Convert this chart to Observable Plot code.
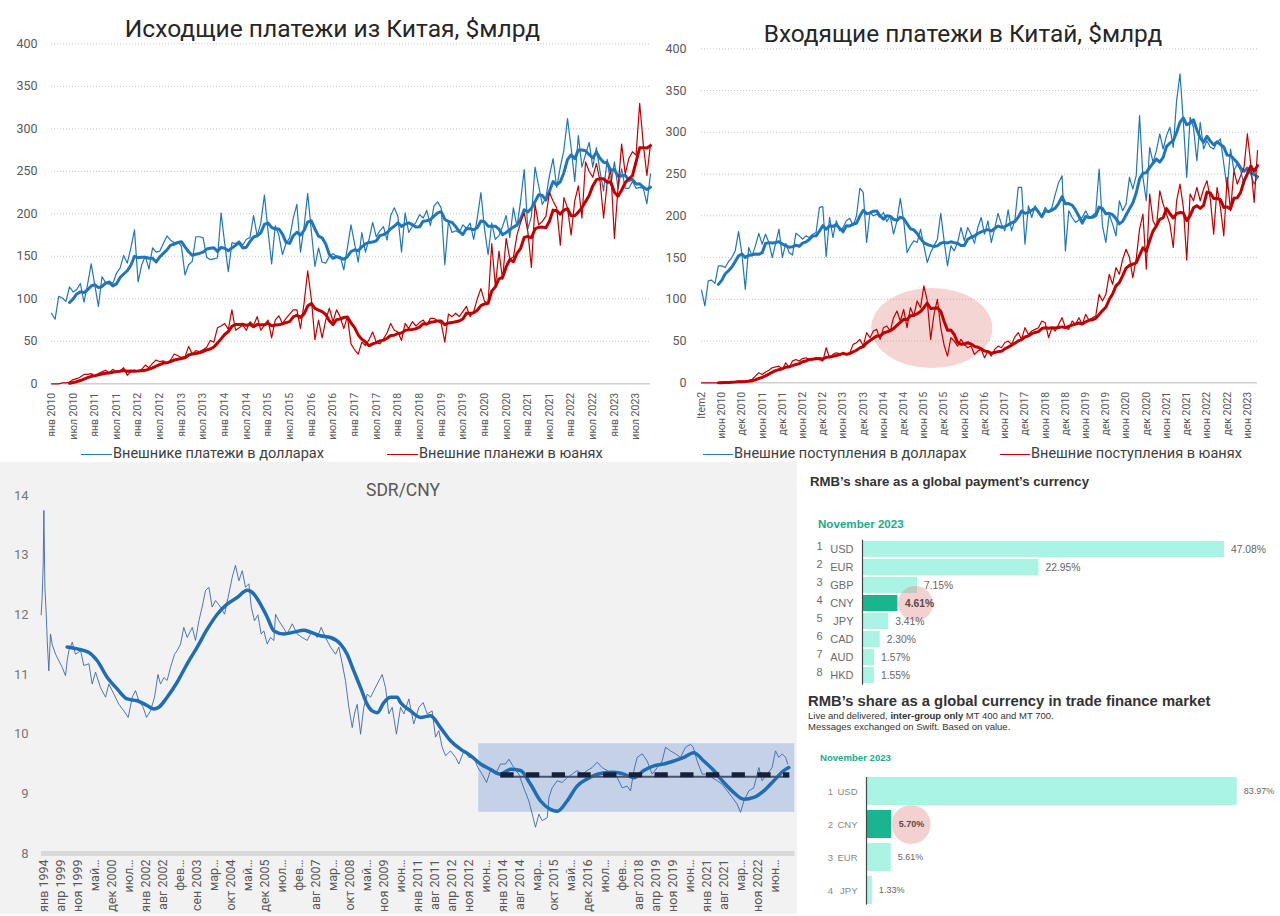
<!DOCTYPE html>
<html lang="ru"><head><meta charset="utf-8">
<script src="https://cdn.jsdelivr.net/npm/d3@7"></script>
<script src="https://cdn.jsdelivr.net/npm/@observablehq/plot@0.6"></script>
<style>
html,body{margin:0;padding:0;background:#fff}
body{width:1280px;height:916px;position:relative;overflow:hidden;font-family:Roboto,"Noto Sans",sans-serif}
.abs{position:absolute}
.title{font-family:Roboto,sans-serif;color:#262626;white-space:nowrap;text-align:center}
.legend{display:flex;align-items:center;font-size:14.5px;color:#404040;white-space:nowrap;height:18px;line-height:18px}
.sw{display:inline-block;width:31px;height:0;border-top:1.6px solid;margin-right:1px}
.rt{font-family:"Liberation Sans",Arial,sans-serif;white-space:nowrap;color:#333}
</style></head><body>
<div class="abs" style="left:0;top:462px;width:797px;height:452px;background:#f2f2f2"></div>

<div class="abs title" style="left:0;top:14.5px;width:665px;font-size:24.6px;line-height:28px">Исходщие платежи из Китая, $млрд</div>
<div class="abs title" style="left:660px;top:19.5px;width:606px;font-size:24.4px;line-height:28px">Входящие платежи в Китай, $млрд</div>
<div id="chartA" class="abs" style="left:0;top:0"></div>
<div id="chartB" class="abs" style="left:660px;top:0"></div>
<div class="abs legend" style="left:81px;top:445px"><span class="sw" style="border-color:#2176b8"></span>Внешнике платежи в долларах</div>
<div class="abs legend" style="left:387px;top:445px"><span class="sw" style="border-color:#c00000"></span>Внешние планежи в юанях</div>
<div class="abs legend" style="left:703px;top:445px"><span class="sw" style="border-color:#2176b8;width:30px"></span>Внешние поступления в долларах</div>
<div class="abs legend" style="left:1000px;top:445px"><span class="sw" style="border-color:#c00000;width:30px"></span>Внешние поступления в юанях</div>

<div id="chartC" class="abs" style="left:0;top:462px"></div>
<div class="abs" style="left:300px;top:480px;width:206px;text-align:center;font-size:17.5px;line-height:20px;color:#595959;font-family:Roboto,sans-serif">SDR/CNY</div>

<div class="abs rt" style="left:810px;top:474px;font-size:13.2px;line-height:16px;font-weight:bold">RMB’s share as a global payment’s currency</div>
<div class="abs rt" style="left:818px;top:516.7px;font-size:11.6px;line-height:14px;font-weight:bold;color:#1aab8d">November 2023</div>
<div id="chartD1" class="abs" style="left:800px;top:535px"></div>
<div class="abs rt" style="left:808px;top:692px;font-size:14.8px;line-height:18px;font-weight:bold">RMB’s share as a global currency in trade finance market</div>
<div class="abs rt" style="left:808px;top:709.5px;font-size:9.5px;line-height:11px;color:#333">Live and delivered, <b>inter-group only</b> MT 400 and MT 700.<br>Messages exchanged on Swift. Based on value.</div>
<div class="abs rt" style="left:820px;top:752.4px;font-size:9.6px;line-height:12px;font-weight:bold;color:#1aab8d">November 2023</div>
<div id="chartD2" class="abs" style="left:800px;top:770px"></div>

<script>
// ---------- Data: outgoing payments (янв 2010 – ноя 2023), $bn ----------
const outLabels = ["янв 2010","июл 2010","янв 2011","июл 2011","янв 2012","июл 2012","янв 2013","июл 2013","янв 2014","июл 2014","янв 2015","июл 2015","янв 2016","июл 2016","янв 2017","июл 2017","янв 2018","июл 2018","янв 2019","июл 2019","янв 2020","июл 2020","янв 2021","июл 2021","янв 2022","июл 2022","янв 2023","июл 2023"];
const outUSD = [83,76,103,101,97,114,108,111,118,96,117,141,116,91,126,119,121,118,130,136,151,142,160,181,120,140,150,135,160,155,156,165,174,169,166,167,162,128,140,144,173,173,172,149,146,147,148,201,165,132,166,165,168,163,170,172,198,174,189,222,180,141,186,175,152,165,172,195,211,155,185,224,180,138,160,143,142,150,153,150,150,134,160,187,165,143,178,155,170,190,173,180,185,169,198,207,197,155,201,178,185,190,199,195,204,186,209,214,207,140,191,178,180,178,187,183,189,170,195,225,182,152,189,170,174,185,198,172,207,185,215,252,182,197,255,233,211,219,245,265,231,255,275,312,278,238,292,255,270,284,255,278,250,227,264,233,261,230,253,230,230,238,230,231,230,212,247];
const outCNY = [0,0,0,1,1,2,5,6,8,11,11,12,9,12,14,16,13,17,14,15,19,10,15,16,15,17,22,19,24,28,26,27,24,28,35,33,31,32,44,35,39,38,40,43,51,49,66,68,71,64,87,63,66,69,63,73,69,79,63,69,75,54,75,80,71,77,82,87,87,65,95,133,100,52,75,54,75,89,73,87,79,65,79,47,40,35,49,45,52,61,49,47,53,60,71,63,61,51,71,65,73,68,72,75,69,77,77,74,71,49,82,79,83,79,85,91,79,85,100,112,97,95,165,115,156,123,171,147,149,175,190,201,179,137,211,187,191,197,225,215,207,163,219,207,175,215,233,195,261,250,243,259,239,195,237,251,171,231,282,247,265,273,269,330,282,245,282];

// ---------- Data: incoming payments (Item2 = дек 2009 … окт 2023), $bn ----------
const inLabels = ["Item2","июн 2010","дек 2010","июн 2011","дек 2011","июн 2012","дек 2012","июн 2013","дек 2013","июн 2014","дек 2014","июн 2015","дек 2015","июн 2016","дек 2016","июн 2017","дек 2017","июн 2018","дек 2018","июн 2019","дек 2019","июн 2020","дек 2020","июн 2021","дек 2021","июн 2022","дек 2022","июн 2023"];
const inUSD = [111,92,122,123,119,140,140,138,145,150,158,181,154,112,162,152,164,179,166,178,168,150,167,184,150,167,156,153,179,176,172,176,174,178,180,210,211,151,198,174,194,182,186,194,197,188,200,233,228,168,204,200,202,198,204,193,200,178,194,221,194,156,164,170,168,184,164,144,156,164,172,203,170,140,164,158,168,186,170,186,178,167,186,198,178,194,168,185,203,190,182,207,182,195,234,234,166,212,198,212,205,200,210,204,210,226,240,248,158,206,198,192,195,198,206,198,200,204,256,188,168,202,190,176,218,206,214,246,232,248,320,246,218,282,264,278,298,280,296,306,282,338,370,312,246,318,306,266,312,280,290,282,280,288,292,262,232,280,254,262,254,238,254,250,238,246];
const inCNY = [0,0,0,0,0,0,1,1,1,1,1,2,2,2,3,4,8,12,10,13,15,18,19,20,16,24,18,26,28,26,29,30,28,29,30,28,26,42,30,34,36,35,35,34,36,46,48,52,44,60,54,62,64,52,66,68,62,78,86,74,88,66,90,80,98,90,116,98,52,82,100,66,45,32,54,50,44,52,46,42,44,34,38,40,30,38,32,40,44,42,48,50,46,55,60,52,66,58,62,64,66,74,72,54,66,62,70,78,66,64,74,70,78,70,82,75,78,80,106,98,106,130,118,138,130,148,160,150,126,148,184,202,136,226,194,186,230,214,202,190,162,218,238,210,147,226,218,234,218,232,242,220,178,234,210,176,246,206,254,238,248,258,298,262,216,278];
const inHighlightCenter = [68.5, 65];   // month index, $bn
const inHighlightRadius = [18, 48];

// ---------- Data: SDR/CNY (x = position on the category axis) ----------
const sdrLabels = ["янв 1994","апр 1999","ноя 1999","май…","дек 2000","июл…","янв 2002","авг 2002","фев…","сен 2003","мар…","окт 2004","май…","дек 2005","июл…","фев…","авг 2007","мар…","окт 2008","май…","ноя 2009","июн…","янв 2011","авг 2011","апр 2012","ноя 2012","июн…","янв 2014","авг 2014","мар…","окт 2015","май…","дек 2016","июл…","фев…","авг 2018","апр 2019","ноя 2019","июн…","янв 2021","авг 2021","мар…","ноя 2022","июн…"];
const sdrT = [-0.14,-0.08,-0.02,0.02,0.08,0.16,0.22,0.31,0.41,0.51,0.71,0.9,1.1,1.29,1.39,1.49,1.69,1.88,2.18,2.37,2.67,2.86,3.06,3.35,3.65,3.84,4.14,4.43,4.73,4.98,5.22,5.41,5.61,5.86,6.06,6.29,6.53,6.73,6.88,7.08,7.27,7.47,7.71,7.86,8.06,8.25,8.45,8.75,8.94,9.14,9.33,9.53,9.73,9.92,10.12,10.41,10.65,10.9,11.1,11.29,11.49,11.69,11.88,12.08,12.22,12.41,12.61,12.8,12.96,13.16,13.35,13.55,13.65,13.84,14.1,14.33,14.63,14.92,15.22,15.51,15.8,16.1,16.33,16.59,16.88,17.18,17.37,17.57,17.76,17.96,18.16,18.29,18.45,18.65,18.84,19.04,19.24,19.43,19.63,19.92,20.12,20.31,20.51,20.76,21.0,21.2,21.49,21.78,22.08,22.33,22.57,22.86,23.06,23.25,23.45,23.65,23.94,24.24,24.43,24.73,25.02,25.31,25.55,25.8,26.06,26.29,26.59,26.88,27.18,27.37,27.67,27.96,28.25,28.55,28.75,28.94,29.14,29.33,29.63,29.73,29.92,30.22,30.51,30.8,31.1,31.39,31.69,31.98,32.27,32.57,32.86,33.16,33.45,33.75,34.04,34.33,34.53,34.73,34.92,35.22,35.51,35.8,36.1,36.39,36.59,36.88,37.18,37.47,37.76,38.06,38.22,38.45,38.75,39.04,39.33,39.63,39.92,40.22,40.51,40.8,41.0,41.2,41.49,41.78,42.08,42.27,42.57,42.86,43.06,43.25,43.45,43.65,43.78];
const sdrV = [12.0,12.3,12.85,13.75,12.46,12.0,11.55,11.06,11.68,11.5,11.34,11.23,11.12,10.98,11.23,11.40,11.54,11.34,11.40,11.15,11.18,10.84,11.04,10.78,10.62,10.84,10.67,10.50,10.39,10.28,10.62,10.73,10.56,10.45,10.28,10.39,10.62,11.0,10.84,10.95,10.9,11.12,11.34,11.40,11.51,11.79,11.62,11.79,11.57,11.9,12.13,12.41,12.46,12.13,12.24,12.13,12.01,12.35,12.63,12.83,12.57,12.74,12.46,12.52,12.13,11.9,12.0,11.68,11.73,11.51,11.62,11.57,12.01,11.9,11.79,11.68,11.85,11.68,11.62,11.57,11.73,11.62,11.79,11.62,11.46,11.34,11.46,11.18,10.9,10.45,10.11,10.34,10.5,10.0,10.45,10.67,10.62,10.73,10.84,11.0,10.78,10.34,10.45,10.0,10.45,10.34,10.59,10.17,10.45,10.53,10.34,10.39,9.95,10.06,9.78,9.64,9.72,9.61,9.5,9.72,9.61,9.61,9.44,9.33,9.19,9.39,9.33,9.5,9.5,9.58,9.44,9.33,9.1,8.88,8.66,8.44,8.66,8.55,8.6,8.94,9.1,9.22,9.19,9.27,9.33,9.39,9.33,9.39,9.44,9.53,9.44,9.39,9.33,9.27,9.1,9.13,9.05,9.39,9.61,9.67,9.55,9.33,9.44,9.55,9.78,9.72,9.67,9.61,9.78,9.83,9.78,9.55,9.33,9.33,9.27,9.22,9.16,9.05,8.94,8.83,8.69,8.88,9.05,9.1,9.44,9.22,9.33,9.44,9.72,9.61,9.67,9.61,9.5];
const sdrMaT = [1.39,1.98,2.67,3.16,3.75,4.33,4.92,5.51,6.1,6.49,6.78,7.27,7.86,8.45,9.04,9.63,10.22,10.8,11.39,11.98,12.37,12.76,13.16,13.55,14.14,14.73,15.31,15.71,16.29,16.88,17.47,17.86,18.25,18.65,19.04,19.33,19.63,20.02,20.41,20.8,21.0,21.59,22.18,22.76,23.35,23.94,24.53,25.12,25.71,26.29,26.88,27.47,28.06,28.65,29.24,29.82,30.22,30.8,31.39,31.98,32.76,33.55,34.14,34.73,35.31,35.9,36.49,37.08,37.67,38.25,38.84,39.43,40.02,40.61,41.2,41.78,42.37,42.96,43.55,43.84];
const sdrMaV = [11.46,11.43,11.37,11.23,10.95,10.76,10.59,10.56,10.48,10.42,10.45,10.62,10.87,11.18,11.46,11.76,12.01,12.18,12.29,12.41,12.35,12.18,11.96,11.73,11.68,11.71,11.74,11.71,11.65,11.62,11.51,11.34,11.06,10.78,10.5,10.39,10.36,10.53,10.62,10.62,10.53,10.39,10.28,10.31,10.11,9.89,9.75,9.64,9.5,9.41,9.33,9.41,9.39,9.16,8.88,8.74,8.71,8.88,9.13,9.25,9.34,9.36,9.33,9.27,9.39,9.47,9.5,9.55,9.61,9.69,9.55,9.39,9.19,9.02,8.91,8.94,9.05,9.22,9.39,9.44];
const sdrBandX = [25.6, 44.2];
const sdrBandY = [8.69, 9.84];
const sdrAvgX = [26.9, 43.9];
const sdrAvg = 9.32;
const sdrAvgBase = 9.285;

// ---------- Data: SWIFT shares, November 2023 ----------
const payCur = ["USD","EUR","GBP","CNY","JPY","CAD","AUD","HKD"];
const payShare = [47.08,22.95,7.15,4.61,3.41,2.30,1.57,1.55];
const tradeCur = ["USD","CNY","EUR","JPY"];
const tradeShare = [83.97,5.70,5.61,1.33];

// ---------- Styles ----------
const BLUE = "#2176b8", RED = "#c00000";
const TEAL_L = "#aaf4e3", TEAL_D = "#19b58e", PINK = "#e07b7b";

function lineChart(id, o) {
  const rows = o.usd.map((v, i) => ({i, usd: v, cny: o.cny[i]}));
  const yTicks = d3.range(0, 401, 50);
  const win = {k: 6, anchor: "end", strict: true};
  const p = Plot.plot({
    width: o.width, height: 440,
    marginLeft: o.ml, marginRight: o.mr, marginTop: o.mt, marginBottom: 440 - o.y0,
    style: {background: "transparent", color: "#595959", fontFamily: "Roboto, sans-serif", overflow: "visible"},
    x: {domain: [0, rows.length - 1], label: null},
    y: {domain: [0, 400], label: null},
    marks: [
      Plot.ruleY(yTicks.slice(1), {stroke: "#c4c4c4", strokeDasharray: "1,2", strokeWidth: 1}),
      Plot.ruleY([0], {stroke: "#d0d0d0", strokeWidth: 1.5}),
      Plot.lineY(rows, {x: "i", y: "usd", stroke: BLUE, strokeWidth: 1.2}),
      Plot.lineY(rows, Plot.windowY(win, {x: "i", y: "usd", stroke: BLUE, strokeWidth: 3})),
      Plot.lineY(rows, {x: "i", y: "cny", stroke: RED, strokeWidth: 1.2}),
      Plot.lineY(rows, Plot.windowY(win, {x: "i", y: "cny", stroke: RED, strokeWidth: 3})),
      Plot.axisY({ticks: yTicks, tickSize: 0, tickPadding: o.pad, fontSize: 12.5, label: null}),
      Plot.axisX({ticks: d3.range(0, o.labels.length * 6, 6), tickFormat: i => o.labels[i / 6],
                  tickRotate: -90, tickSize: 0, tickPadding: 9, fontSize: 10.5, label: null})
    ]
  });
  document.getElementById(id).append(p);
  return p;
}

lineChart("chartA", {usd: outUSD, cny: outCNY, labels: outLabels, width: 660, ml: 51, mr: 10, mt: 43.3, y0: 383.3, pad: 14});
const pB = lineChart("chartB", {usd: inUSD, cny: inCNY, labels: inLabels, width: 620, ml: 41, mr: 23, mt: 48.3, y0: 382.3, pad: 15});
{
  const sx = pB.scale("x"), sy = pB.scale("y");
  const cx = sx.apply(inHighlightCenter[0]), cy = sy.apply(inHighlightCenter[1]);
  const rx = sx.apply(inHighlightCenter[0] + inHighlightRadius[0]) - cx;
  const ry = cy - sy.apply(inHighlightCenter[1] + inHighlightRadius[1]);
  d3.select(pB).insert("ellipse", 'g[aria-label="line"]')
    .attr("cx", cx).attr("cy", cy).attr("rx", rx).attr("ry", ry)
    .attr("fill", PINK).attr("fill-opacity", 0.33);
}

// SDR/CNY
{
  const thin = sdrT.map((t, i) => ({t, v: sdrV[i]}));
  const ma = sdrMaT.map((t, i) => ({t, v: sdrMaV[i]}));
  const p = Plot.plot({
    width: 800, height: 454, marginLeft: 41, marginRight: 5.6, marginTop: 33, marginBottom: 63,
    style: {background: "transparent", color: "#595959", fontFamily: "Roboto, sans-serif", overflow: "visible"},
    x: {domain: [-0.12, 44.2], label: null},
    y: {domain: [8, 14], label: null},
    marks: [
      Plot.rect([{x1: sdrBandX[0], x2: sdrBandX[1], y1: sdrBandY[0], y2: sdrBandY[1]}],
                {x1: "x1", x2: "x2", y1: "y1", y2: "y2", fill: "#4472c4", fillOpacity: 0.26}),
      Plot.ruleY([8], {stroke: "#d9d9d9", strokeWidth: 5}),
      Plot.line(thin, {x: "t", y: "v", stroke: "#3f68a8", strokeWidth: 0.9}),
      Plot.line(ma, {x: "t", y: "v", stroke: "#1f6db2", strokeWidth: 3.5, curve: "monotone-x"}),
      Plot.ruleY([{y: sdrAvgBase, x1: sdrAvgX[0], x2: sdrAvgX[1]}], {y: "y", x1: "x1", x2: "x2", stroke: "#44546a", strokeWidth: 2}),
      Plot.ruleY([{y: sdrAvg, x1: sdrAvgX[0], x2: sdrAvgX[1]}], {y: "y", x1: "x1", x2: "x2", stroke: "#17203a", strokeWidth: 5, strokeDasharray: "13.3,12.4"}),
      Plot.axisY({ticks: d3.range(8, 15), tickFormat: d => String(d), tickSize: 0, tickPadding: 13, fontSize: 13, fill: "#767676", label: null}),
      Plot.axisX({ticks: d3.range(sdrLabels.length), tickFormat: i => sdrLabels[i], tickRotate: -90,
                  tickSize: 0, tickPadding: 6, fontSize: 12.5, label: null})
    ]
  });
  document.getElementById("chartC").append(p);
}

function barChart(id, o) {
  const rows = o.cur.map((c, i) => ({rank: i + 1, c, v: o.share[i]}));
  const cny = rows.filter(d => d.c === "CNY"), rest = rows.filter(d => d.c !== "CNY");
  const p = Plot.plot({
    width: 480, height: o.height, marginLeft: o.ml, marginRight: o.mr, marginTop: o.mt, marginBottom: o.mb,
    style: {background: "transparent", fontFamily: "Liberation Sans, Arial, sans-serif", overflow: "visible"},
    x: {domain: [0, o.xmax], axis: null},
    y: {domain: o.cur, axis: null, paddingInner: o.pi, paddingOuter: 0},
    marks: [
      Plot.barX(rows, {x: "v", y: "c", fill: d => d.c === "CNY" ? TEAL_D : TEAL_L}),
      Plot.ruleX([0], {stroke: "#444", strokeWidth: 1.2}),
      Plot.dot(cny, {x: "v", y: "c", r: o.r, dx: o.r, fill: PINK, fillOpacity: 0.35, stroke: null}),
      Plot.text(rest, {x: "v", y: "c", text: d => d.v.toFixed(2) + "%", dx: 6.5, textAnchor: "start", fontSize: o.vfs, fill: "#666"}),
      Plot.text(cny, {x: "v", y: "c", text: d => d.v.toFixed(2) + "%", dx: 7, textAnchor: "start", fontSize: o.vfs, fontWeight: "bold", fill: "#5b4848"}),
      Plot.text(rows, {x: 0, y: "c", text: "c", dx: -9, textAnchor: "end", fontSize: o.lfs, fill: o.lc}),
      Plot.text(rows, {x: 0, y: "c", text: "rank", dx: o.rdx, dy: o.rdy, textAnchor: "middle", fontSize: o.lfs, fill: o.lc})
    ]
  });
  document.getElementById(id).append(p);
}
barChart("chartD1", {cur: payCur, share: payShare, height: 160, ml: 62, mr: 33.5, mt: 4.7, mb: 10.3, pi: 0.13, xmax: 50, r: 17.5, vfs: 10.3, lfs: 11, lc: "#6b6b6b", rdx: -43, rdy: -3});
barChart("chartD2", {cur: tradeCur, share: tradeShare, height: 146, ml: 66, mr: 16.6, mt: 7, mb: 11.4, pi: 0.157, xmax: 90, r: 19.5, vfs: 9, lfs: 9.5, lc: "#888", rdx: -36, rdy: 0});
</script>
</body></html>
